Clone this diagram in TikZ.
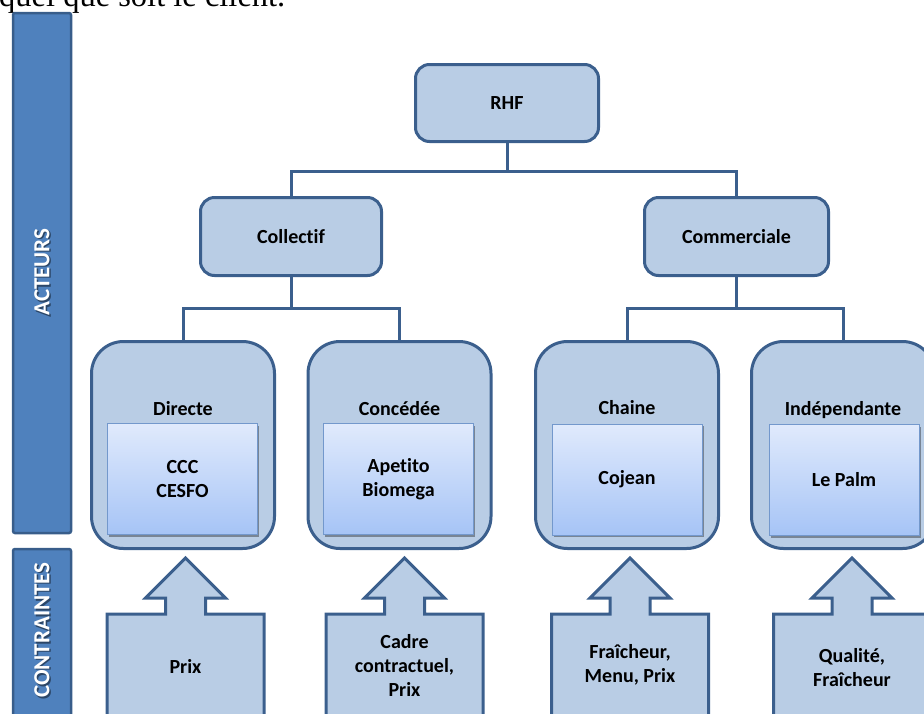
\documentclass[tikz,border=0pt]{standalone}
\usepackage{fontspec}
\setmainfont{Liberation Serif}
\newfontfamily\calfont[Ligatures=NoCommon]{Carlito}
\usetikzlibrary{shadows}
\definecolor{boxfill}{HTML}{B9CDE5}
\definecolor{boxline}{HTML}{3B5F8D}
\definecolor{barfill}{HTML}{4F81BD}
\definecolor{barline}{HTML}{385D8A}
\definecolor{innertop}{HTML}{E0EAFC}
\definecolor{innerbot}{HTML}{A6C4F6}
\definecolor{innerline}{HTML}{7398CC}
\newcommand\upcall[1]{%
  \draw[callshape] (#1,558) -- (#1+40,598) -- (#1+20,598) -- (#1+20,614)
    -- (#1+78.5,614) -- (#1+78.5,760) -- (#1-78.5,760) -- (#1-78.5,614)
    -- (#1-20,614) -- (#1-20,598) -- (#1-40,598) -- cycle;}
\begin{document}
\begin{tikzpicture}[x=1pt,y=-1pt,
  lbl/.style={font=\calfont\bfseries\fontsize{20}{24}\selectfont, align=center, inner sep=0pt},
  lvl/.style={lbl, draw=boxline, fill=boxfill, line width=3pt, rounded corners=14pt},
  small/.style={lvl, minimum width=183pt, minimum height=78pt},
  big/.style={lvl, rounded corners=32pt, minimum width=183pt, minimum height=207pt},
  inner/.style={lbl, draw=innerline, line width=0.8pt, top color=innertop, bottom color=innerbot,
    minimum width=150pt, minimum height=111pt,
    drop shadow={shadow xshift=1.5pt, shadow yshift=-2pt, opacity=0.35, fill=black}},
  conn/.style={draw=boxline, line width=3pt},
  callshape/.style={draw=boxline, fill=boxfill, line width=3pt, line join=miter},
  bar/.style={draw=barline, fill=barfill, line width=2.5pt, rounded corners=2pt},
  bartext/.style={font=\calfont\bfseries\fontsize{23}{26}\selectfont, rotate=90, inner sep=0pt}
]
\useasboundingbox (0,0) rectangle (924,713);
\clip (0,0) rectangle (924,713);
% top text line (cut off)
\node[anchor=base west, inner sep=0pt, font=\fontsize{32.5}{36}\selectfont] (toptext) at (-1,6) {quel que soit le client.};
% side bars
\draw[bar] (13,13) rectangle (71,533);
\draw[bar] (13,549) rectangle (71,760);
\node[bartext, text=black, opacity=0.45] (actshadow) at (43.5,273.5) {ACTEURS};
\node[bartext, text=white] (act) at (42,272) {ACTEURS};
\node[bartext, text=black, opacity=0.45] (conshadow) at (43.5,631.5) {CONTRAINTES};
\node[bartext, text=white] (con) at (42,630) {CONTRAINTES};
% level 1 and 2
\node[small, minimum width=183pt, minimum height=77pt] (rhf) at (507,103) {RHF};
\node[small, minimum width=181pt] (col) at (291,236.5) {Collectif};
\node[small, minimum width=184pt] (com) at (736.5,236.5) {Commerciale};
% level 3
\node[big] (dir) at (183,445) {};
\node[big] (conc) at (399.5,445) {};
\node[big] (cha) at (627,445) {};
\node[big] (ind) at (843,445) {};
\node[lbl] (dirl) at (183,409) {Directe};
\node[lbl] (concl) at (399.5,409) {Concédée};
\node[lbl] (chal) at (627,408) {Chaine};
\node[lbl] (indl) at (843,410) {Indépendante};
\node[inner] (diri) at (182.5,479) {CCC\\CESFO};
\node[inner] (conci) at (398.5,479) {Apetito\\Biomega};
\node[inner] (chai) at (627,479.5) {Cojean};
\node[inner] (indi) at (844,480) {Le Palm};
% connectors
\draw[conn] (rhf.south) -- ++(0,28) -| (col.north);
\draw[conn] (rhf.south) -- ++(0,28) -| (com.north);
\draw[conn] (col.south) -- ++(0,31) -| (dir.north);
\draw[conn] (col.south) -- ++(0,31) -| (conc.north);
\draw[conn] (com.south) -- ++(0,31) -| (cha.north);
\draw[conn] (com.south) -- ++(0,31) -| (ind.north);
% constraint arrows
\upcall{185.5}
\upcall{404.5}
\upcall{630}
\upcall{852}
\node[lbl] (c1) at (185.5,666) {Prix};
\node[lbl] (c2) at (404.5,665) {Cadre\\contractuel,\\Prix};
\node[lbl] (c3) at (630,665) {Fraîcheur,\\Menu, Prix};
\node[lbl] (c4) at (852,668) {Qualité,\\Fraîcheur};
\end{tikzpicture}
\end{document}
